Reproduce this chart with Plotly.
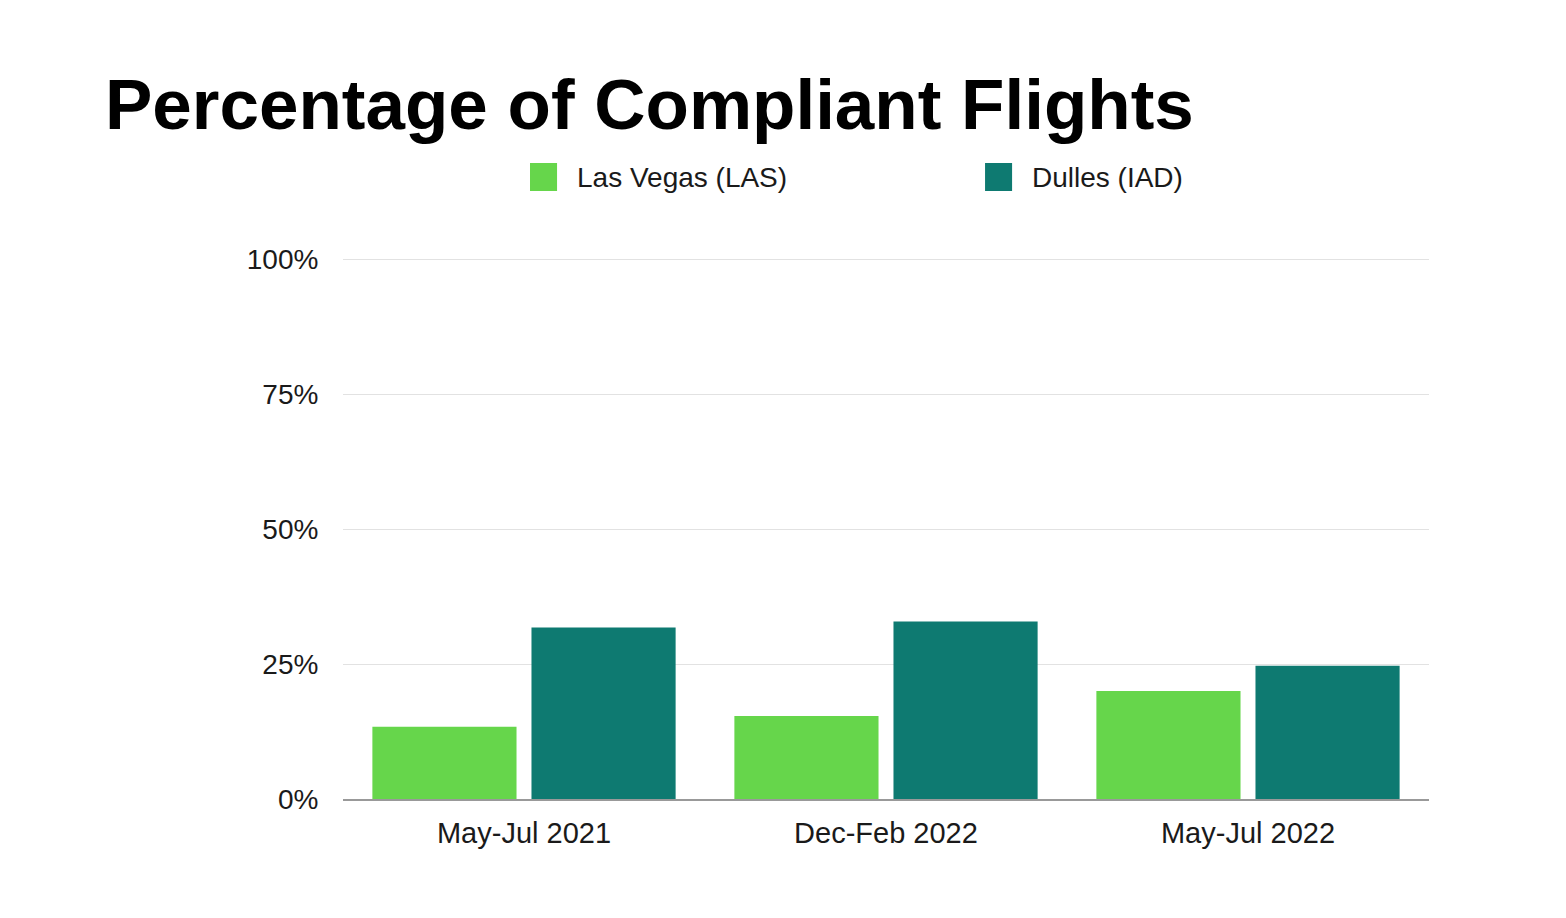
import plotly.graph_objects as go

categories = ["May-Jul 2021", "Dec-Feb 2022", "May-Jul 2022"]
series_names = ["Las Vegas (LAS)", "Dulles (IAD)"]
las_values = [13.4, 15.4, 20.0]
iad_values = [31.8, 32.9, 24.7]
y_ticks = [0, 25, 50, 75, 100]
y_tick_labels = ["0%", "25%", "50%", "75%", "100%"]
colors = ["#66D64B", "#0E7A71"]

FONT = "Liberation Sans, Arial, Helvetica, sans-serif"

W, H = 1550, 902  # page body has an 8px margin

fig = go.Figure()
for name, vals, col in zip(series_names, [las_values, iad_values], colors):
    fig.add_trace(go.Bar(x=categories, y=vals, name=name, marker_color=col,
                         marker_line_width=0, showlegend=False))

# manual legend (large square swatches)
legend_pos = [(0.1722, 0.2136), (0.5912, 0.6326)]
for (sx, tx), name, col in zip(legend_pos, series_names, colors):
    fig.add_shape(type="rect", xref="paper", yref="paper",
                  x0=sx, x1=sx + 0.0249, y0=1.1238, y1=1.1756,
                  fillcolor=col, line_width=0)
    fig.add_annotation(text=name, xref="paper", yref="paper", x=tx, y=1.1497,
                       xanchor="left", yanchor="middle", showarrow=False,
                       font=dict(family=FONT, size=28, color="#1a1a1a"))

fig.update_layout(
    width=W, height=H,
    margin=dict(l=335, r=129, t=250, b=111),
    paper_bgcolor="white", plot_bgcolor="white",
    barmode="group", bargap=0.121, bargroupgap=0.094,
    title=dict(text="<b>Percentage of Compliant Flights</b>",
               xref="container", yref="container",
               x=97 / W, xanchor="left", y=1 - 96 / H, yanchor="middle",
               font=dict(family=FONT, size=71, color="#000000")),
    font=dict(family=FONT, color="#1a1a1a"),
)
fig.update_yaxes(range=[0, 100.25], tickvals=y_ticks, ticktext=y_tick_labels,
                 showgrid=True, gridcolor="#e2e2e2", gridwidth=1,
                 zeroline=False, showline=False,
                 ticks="outside", ticklen=18, tickcolor="rgba(0,0,0,0)",
                 tickfont=dict(family=FONT, size=28, color="#1a1a1a"),
                 fixedrange=True)
fig.update_xaxes(showline=True, linecolor="#999999", linewidth=1.5,
                 showgrid=False, ticks="outside", ticklen=7,
                 tickcolor="rgba(0,0,0,0)",
                 tickfont=dict(family=FONT, size=29, color="#1a1a1a"))

fig.write_html("out.html")
